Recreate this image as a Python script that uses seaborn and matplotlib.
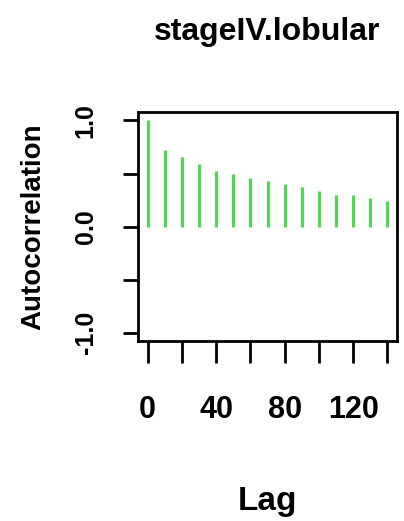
import matplotlib
matplotlib.use("Agg")
import matplotlib.pyplot as plt
import seaborn as sns

# ACF values (lags 0..140 step 10)
lags = [0, 10, 20, 30, 40, 50, 60, 70, 80, 90, 100, 110, 120, 130, 140]
acf_values = [1.0, 0.723, 0.654, 0.591, 0.528, 0.497, 0.462, 0.431,
              0.399, 0.368, 0.336, 0.299, 0.299, 0.267, 0.236]
x_ticks = [0, 20, 40, 60, 80, 100, 120, 140]
x_ticklabels = ["0", "", "40", "", "80", "", "120", ""]
y_ticks = [-1.0, -0.5, 0.0, 0.5, 1.0]
y_ticklabels = ["-1.0", "", "0.0", "", "1.0"]
title = "stageIV.lobular"

sns.set_style("white")
plt.rcParams['font.family'] = ['Liberation Sans', 'DejaVu Sans']
plt.rcParams['text.color'] = 'black'
plt.rcParams['axes.labelcolor'] = 'black'
plt.rcParams['xtick.color'] = 'black'
plt.rcParams['ytick.color'] = 'black'

fig = plt.figure(figsize=(4.04, 5.21), dpi=100)
ax = fig.add_axes([0.3416, 0.3455, 0.6411, 0.4395])

ax.vlines(lags, 0, acf_values, color='#4fd94f', lw=2.2)

ax.set_xlim(-5.6, 145.6)
ax.set_ylim(-1.08, 1.08)

ax.set_xticks(x_ticks)
ax.set_xticklabels(x_ticklabels, fontweight='bold', fontsize=22)
ax.set_yticks(y_ticks)
ax.set_yticklabels(y_ticklabels, rotation=90, va='center', fontweight='bold', fontsize=18)
ax.tick_params(axis='x', direction='out', length=16, width=2, pad=23, bottom=True)
ax.tick_params(axis='y', direction='out', length=11, width=2, pad=18, left=True)

for s in ax.spines.values():
    s.set_linewidth(2)
    s.set_color('black')

ax.set_title(title, fontweight='bold', fontsize=23, pad=52)
ax.set_xlabel("Lag", fontweight='bold', fontsize=24, labelpad=44)
ax.set_ylabel("Autocorrelation", fontweight='bold', fontsize=20, labelpad=20)

fig.savefig("out.png", dpi=100)
